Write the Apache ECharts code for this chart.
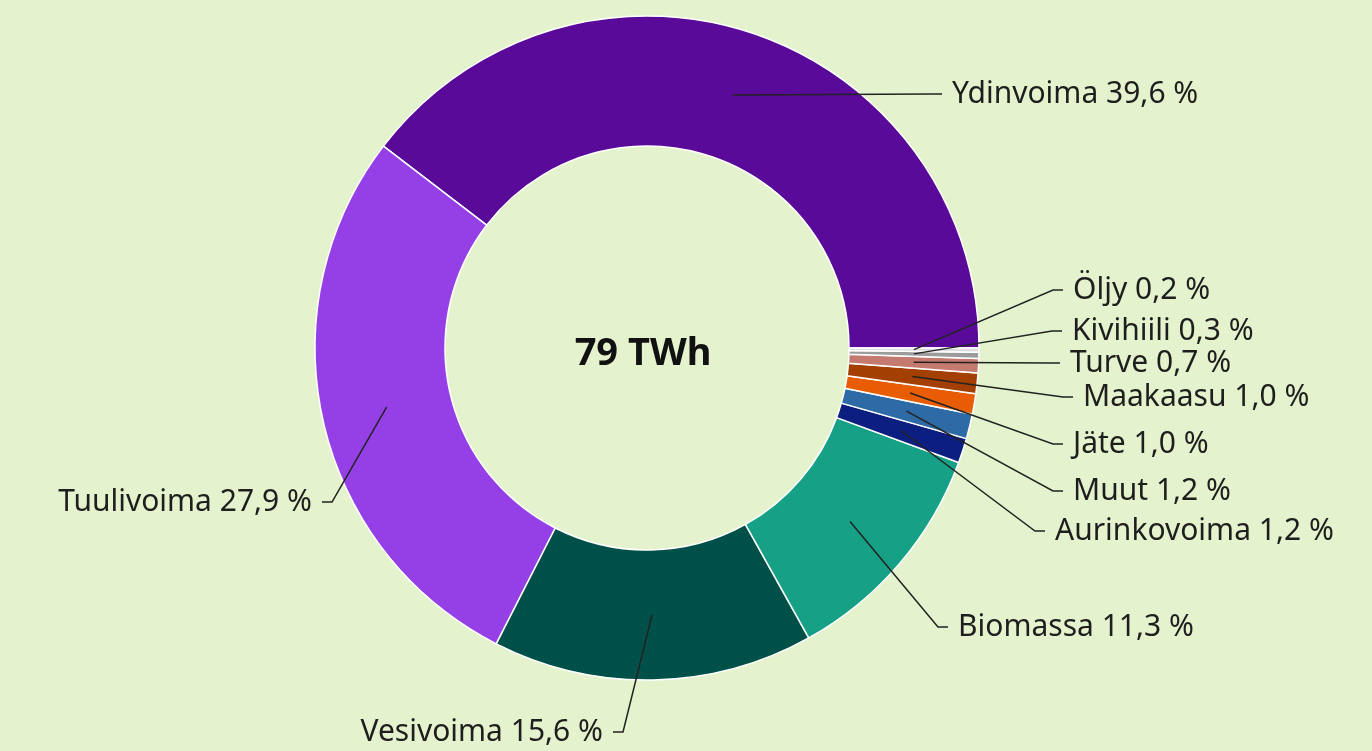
<!DOCTYPE html>
<html>
<head>
<meta charset="utf-8">
<script src="https://cdn.jsdelivr.net/npm/echarts@6/dist/echarts.min.js"></script>
<style>
  html, body { margin: 0; padding: 0; background: #e4f3cd; }
  #chart { width: 1372px; height: 751px; }
</style>
</head>
<body>
<div id="chart"></div>
<script>
// ---- Data ----
const categories = ['Ydinvoima', 'Tuulivoima', 'Vesivoima', 'Biomassa', 'Aurinkovoima', 'Muut', 'Jäte', 'Maakaasu', 'Turve', 'Kivihiili', 'Öljy'];
const shares = [39.6, 27.9, 15.6, 11.3, 1.2, 1.2, 1.0, 1.0, 0.7, 0.3, 0.2];
const totalLabel = '79 TWh';

// ---- Styles / layout ----
const colors = ['#590a99', '#9440e6', '#00504a', '#16a085', '#0c1f80', '#2e6ba6', '#e85d04', '#a33f00', '#c47a6e', '#9c9c9c', '#dedede'];
const CENTER = [647, 348];
const R_OUT = 332, R_IN = 202;
const R_MID = (R_OUT + R_IN) / 2;
// label anchor: [x, y, side]  side 'r' => text to the right of x, 'l' => text ends at x
const labelPos = [
  [952, 94, 'r'],
  [312, 502, 'l'],
  [603, 732, 'l'],
  [958, 627, 'r'],
  [1055, 531, 'r'],
  [1073, 491, 'r'],
  [1073, 444, 'r'],
  [1083, 397, 'r'],
  [1070, 363, 'r'],
  [1072, 331, 'r'],
  [1073, 290, 'r']
];
const GAP = 10, SEG = 10;

const data = categories.map((c, i) => ({ name: c, value: shares[i] }));

const chart = echarts.init(document.getElementById('chart'), null, { renderer: 'canvas' });
chart.setOption({
  backgroundColor: '#e4f3cd',
  animation: false,
  color: colors,
  graphic: [{
    type: 'text',
    x: CENTER[0] - 4,
    y: 354,
    z: 100,
    style: {
      text: totalLabel,
      align: 'center',
      verticalAlign: 'middle',
      font: 'bold 38px "Noto Sans", sans-serif',
      fill: '#111'
    }
  }],
  series: [
    {
      type: 'pie',
      z: 2,
      center: CENTER,
      radius: [R_IN, R_OUT],
      startAngle: 0,
      clockwise: false,
      silent: true,
      avoidLabelOverlap: false,
      label: { show: false },
      labelLine: { show: false },
      itemStyle: { borderColor: '#ffffff', borderWidth: 1.5 },
      emphasis: { disabled: true },
      data: data
    },
    {
      type: 'pie',
      z: 3,
      center: CENTER,
      radius: [0, R_MID],
      startAngle: 0,
      clockwise: false,
      silent: true,
      avoidLabelOverlap: false,
      itemStyle: { color: 'rgba(0,0,0,0)', borderWidth: 0 },
      emphasis: { disabled: true },
      label: {
        show: true,
        position: 'outside',
        color: '#1e1e1e',
        fontFamily: '"Noto Sans", sans-serif',
        fontSize: 30,
        formatter: p => p.name + ' ' + p.value.toFixed(1).replace('.', ',') + ' %'
      },
      labelLine: {
        show: true,
        length: 10,
        length2: 10,
        lineStyle: { color: '#222222', width: 1.5, opacity: 1 }
      },
      labelLayout: function (params) {
        const p = labelPos[params.dataIndex];
        const start = params.labelLinePoints ? params.labelLinePoints[0] : [p[0], p[1]];
        const right = p[2] === 'r';
        const endX = right ? p[0] - GAP : p[0] + GAP;
        const bendX = right ? endX - SEG : endX + SEG;
        return {
          x: p[0],
          y: p[1],
          align: right ? 'left' : 'right',
          verticalAlign: 'middle',
          hideOverlap: false,
          moveOverlap: null,
          labelLinePoints: [start, [bendX, p[1]], [endX, p[1]]]
        };
      },
      data: data
    }
  ]
});
</script>
</body>
</html>
